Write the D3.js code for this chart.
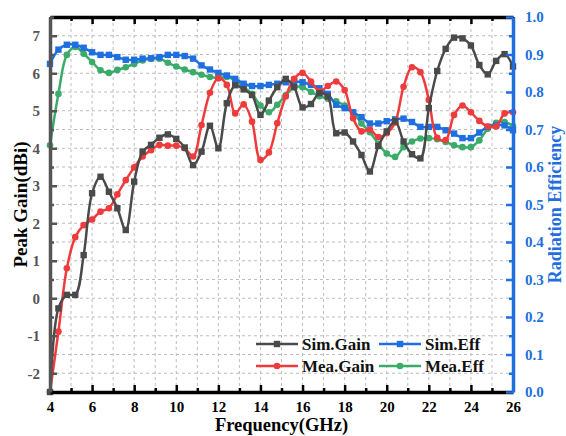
<!DOCTYPE html>
<html>
<head>
<meta charset="utf-8">
<script src="https://cdn.jsdelivr.net/npm/d3@7"></script>
<style>
  body { margin: 0; background: #fff; }
  svg text { font-family: "Liberation Serif", "Times New Roman", serif; font-weight: bold; }
</style>
</head>
<body>
<div id="chart"></div>
<script>
// frequency samples (GHz)
const freq = [4, 4.4, 4.8, 5.2, 5.6, 6, 6.4, 6.8, 7.2, 7.6, 8, 8.4, 8.8, 9.2, 9.6, 10,
  10.4, 10.8, 11.2, 11.6, 12, 12.4, 12.8, 13.2, 13.6, 14, 14.4, 14.8, 15.2, 15.6, 16,
  16.4, 16.8, 17.2, 17.6, 18, 18.4, 18.8, 19.2, 19.6, 20, 20.4, 20.8, 21.2, 21.6, 22,
  22.4, 22.8, 23.2, 23.6, 24, 24.4, 24.8, 25.2, 25.6, 26];

const simGain = [-2.5, -0.27, 0.09, 0.09, 1.15, 2.8, 3.24, 2.84, 2.4, 1.82, 3.11, 3.91,
  4.09, 4.28, 4.37, 4.25, 4.02, 3.55, 3.91, 4.6, 4.0, 5.2, 5.68, 5.57, 5.42, 4.89, 5.27,
  5.63, 5.85, 5.63, 5.09, 5.18, 5.47, 5.38, 4.4, 4.42, 4.18, 3.82, 3.38, 4.06, 4.45, 4.72,
  4.18, 3.84, 3.73, 5.07, 6.06, 6.65, 6.95, 6.93, 6.74, 6.22, 5.97, 6.33, 6.51, 6.18];

const meaGain = [-2.5, -0.89, 0.8, 1.63, 1.95, 2.1, 2.31, 2.4, 2.77, 3.15, 3.49, 3.78,
  3.95, 4.09, 4.07, 4.07, 4.0, 3.78, 4.62, 5.48, 5.87, 5.69, 4.93, 5.17, 4.71, 3.69, 3.89,
  4.67, 5.38, 5.85, 6.01, 5.78, 5.52, 5.66, 5.78, 5.55, 4.8, 4.45, 4.5, 4.3, 4.4, 4.69,
  5.64, 6.16, 6.03, 5.29, 4.28, 4.22, 4.89, 5.14, 4.96, 4.73, 4.58, 4.58, 4.93, 4.96];

const simEff = [0.875, 0.913, 0.926, 0.926, 0.918, 0.906, 0.899, 0.899, 0.893, 0.886,
  0.886, 0.889, 0.89, 0.893, 0.899, 0.899, 0.896, 0.889, 0.871, 0.86, 0.851, 0.844, 0.835,
  0.822, 0.816, 0.816, 0.819, 0.822, 0.826, 0.828, 0.826, 0.819, 0.81, 0.795, 0.766, 0.757,
  0.746, 0.733, 0.716, 0.716, 0.722, 0.727, 0.729, 0.72, 0.707, 0.707, 0.707, 0.698, 0.689,
  0.677, 0.677, 0.692, 0.707, 0.711, 0.711, 0.698];

const meaEff = [0.658, 0.795, 0.899, 0.92, 0.902, 0.88, 0.858, 0.851, 0.859, 0.866,
  0.875, 0.884, 0.889, 0.889, 0.878, 0.868, 0.86, 0.853, 0.846, 0.84, 0.837, 0.84, 0.831,
  0.813, 0.795, 0.764, 0.746, 0.766, 0.791, 0.813, 0.813, 0.8, 0.789, 0.782, 0.775, 0.764,
  0.746, 0.716, 0.693, 0.662, 0.636, 0.627, 0.653, 0.668, 0.676, 0.677, 0.674, 0.667, 0.658,
  0.653, 0.653, 0.671, 0.702, 0.718, 0.72, 0.709];

const xTicks = [4, 6, 8, 10, 12, 14, 16, 18, 20, 22, 24, 26];
const gainTicks = [-2, -1, 0, 1, 2, 3, 4, 5, 6, 7];
const effTicks = [0, 0.1, 0.2, 0.3, 0.4, 0.5, 0.6, 0.7, 0.8, 0.9, 1.0];

const W = 566, H = 436;
const m = {left: 50, right: 513, top: 17, bottom: 392};
const gray = "#4a4a4a", red = "#ef3b3b", blue = "#1f6fe0", green = "#3aab68";

const svg = d3.select("#chart").append("svg")
    .attr("width", W)
    .attr("height", H);

const x = d3.scaleLinear().domain([4, 26]).range([m.left, m.right]);
const yG = d3.scaleLinear().domain([-2.5, 7.5]).range([m.bottom, m.top]);
const yE = d3.scaleLinear().domain([0, 1]).range([m.bottom, m.top]);

// grid
const grid = svg.append("g")
    .attr("stroke", "#bdbdbd")
    .attr("stroke-width", 1)
    .attr("stroke-dasharray", "3,3");
grid.selectAll(".gx").data(d3.range(5, 26, 1)).enter().append("line")
    .attr("x1", d => x(d)).attr("x2", d => x(d))
    .attr("y1", m.top).attr("y2", m.bottom);
grid.selectAll(".gy").data(d3.range(-2, 7.6, 0.5)).enter().append("line")
    .attr("x1", m.left).attr("x2", m.right)
    .attr("y1", d => yG(d)).attr("y2", d => yG(d));

// curves
const series = [
  {vals: meaEff, scale: yE, color: green, marker: "circle"},
  {vals: simEff, scale: yE, color: blue, marker: "square"},
  {vals: meaGain, scale: yG, color: red, marker: "circle"},
  {vals: simGain, scale: yG, color: gray, marker: "square"}
];

const plot = svg.append("g");
series.forEach(s => {
  const data = freq.map((f, i) => ({f: f, v: s.vals[i]}));
  plot.append("path")
      .datum(data)
      .attr("fill", "none")
      .attr("stroke", s.color)
      .attr("stroke-width", 2.5)
      .attr("d", d3.line()
          .x(d => x(d.f))
          .y(d => s.scale(d.v))
          .curve(d3.curveCatmullRom.alpha(0.5)));
  if (s.marker === "square") {
    plot.selectAll(null).data(data).enter().append("rect")
        .attr("x", d => x(d.f) - 3.2).attr("y", d => s.scale(d.v) - 3.2)
        .attr("width", 6.4).attr("height", 6.4)
        .attr("fill", s.color);
  } else {
    plot.selectAll(null).data(data).enter().append("circle")
        .attr("cx", d => x(d.f)).attr("cy", d => s.scale(d.v))
        .attr("r", 3.3)
        .attr("fill", s.color);
  }
});

// axes
function styleAxis(g, color, width) {
  g.attr("font-family", null).attr("font-size", null);
  g.select(".domain").attr("stroke", color).attr("stroke-width", width);
  g.selectAll(".tick line").attr("stroke", color).attr("stroke-width", 2.5);
  g.selectAll("text")
      .style("font-size", "15px")
      .style("font-family", "'Liberation Serif', serif")
      .style("font-weight", "bold");
}

// bottom
const bx = svg.append("g").attr("transform", "translate(0," + m.bottom + ")")
    .call(d3.axisBottom(x).tickValues(xTicks).tickSize(-7).tickSizeOuter(0).tickPadding(9));
styleAxis(bx, "#000", 3.5);
bx.selectAll("text").attr("fill", "#000");
const bxm = svg.append("g").attr("transform", "translate(0," + m.bottom + ")")
    .call(d3.axisBottom(x).tickValues(d3.range(5, 26, 2)).tickSize(-4).tickSizeOuter(0).tickFormat(""));
styleAxis(bxm, "#000", 0);

// top
const tx = svg.append("g").attr("transform", "translate(0," + m.top + ")")
    .call(d3.axisTop(x).tickValues(xTicks).tickSize(-7).tickSizeOuter(0).tickFormat(""));
styleAxis(tx, "#000", 3.5);
const txm = svg.append("g").attr("transform", "translate(0," + m.top + ")")
    .call(d3.axisTop(x).tickValues(d3.range(5, 26, 2)).tickSize(-4).tickSizeOuter(0).tickFormat(""));
styleAxis(txm, "#000", 0);

// left
const ly = svg.append("g").attr("transform", "translate(" + m.left + ",0)")
    .call(d3.axisLeft(yG).tickValues(gainTicks).tickSize(-7).tickSizeOuter(0).tickPadding(10)
        .tickFormat(d => String(d)));
styleAxis(ly, "#555", 3.5);
ly.selectAll("text").attr("fill", "#555");
const lym = svg.append("g").attr("transform", "translate(" + m.left + ",0)")
    .call(d3.axisLeft(yG).tickValues(d3.range(-1.5, 7.6, 1)).tickSize(-4).tickSizeOuter(0).tickFormat(""));
styleAxis(lym, "#555", 0);

// right
const ry = svg.append("g").attr("transform", "translate(" + m.right + ",0)")
    .call(d3.axisRight(yE).tickValues(effTicks).tickSize(-7).tickSizeOuter(0).tickPadding(12)
        .tickFormat(d3.format(".1f")));
styleAxis(ry, blue, 3.5);
ry.selectAll("text").attr("fill", blue);
const rym = svg.append("g").attr("transform", "translate(" + m.right + ",0)")
    .call(d3.axisRight(yE).tickValues(d3.range(0.05, 1, 0.1)).tickSize(-4).tickSizeOuter(0).tickFormat(""));
styleAxis(rym, blue, 0);

// titles
svg.append("text")
    .attr("x", (m.left + m.right) / 2).attr("y", 431)
    .attr("text-anchor", "middle")
    .style("font-size", "18.5px")
    .text("Frequency(GHz)");
svg.append("text")
    .attr("transform", "translate(27," + (m.top + m.bottom) / 2 + ") rotate(-90)")
    .attr("text-anchor", "middle")
    .style("font-size", "19px")
    .text("Peak Gain(dBi)");
svg.append("text")
    .attr("transform", "translate(561," + (m.top + m.bottom) / 2 + ") rotate(-90)")
    .attr("text-anchor", "middle")
    .style("font-size", "18px")
    .attr("fill", blue)
    .text("Radiation Efficiency");

// legend
const legendItems = [
  {name: "Sim.Gain", color: gray, marker: "square", lx: 256, ly: 344},
  {name: "Mea.Gain", color: red, marker: "circle", lx: 256, ly: 366},
  {name: "Sim.Eff", color: blue, marker: "square", lx: 379, ly: 344},
  {name: "Mea.Eff", color: green, marker: "circle", lx: 379, ly: 366}
];
const legend = svg.append("g");
legendItems.forEach(d => {
  legend.append("line")
      .attr("x1", d.lx).attr("x2", d.lx + 42)
      .attr("y1", d.ly).attr("y2", d.ly)
      .attr("stroke", d.color).attr("stroke-width", 2.5);
  if (d.marker === "square") {
    legend.append("rect").attr("x", d.lx + 21 - 3.2).attr("y", d.ly - 3.2)
        .attr("width", 6.4).attr("height", 6.4).attr("fill", d.color);
  } else {
    legend.append("circle").attr("cx", d.lx + 21).attr("cy", d.ly).attr("r", 3.3)
        .attr("fill", d.color);
  }
  legend.append("text")
      .attr("x", d.lx + 46).attr("y", d.ly + 6)
      .style("font-size", "17px")
      .attr("fill", "#111")
      .text(d.name);
});
</script>
</body>
</html>
